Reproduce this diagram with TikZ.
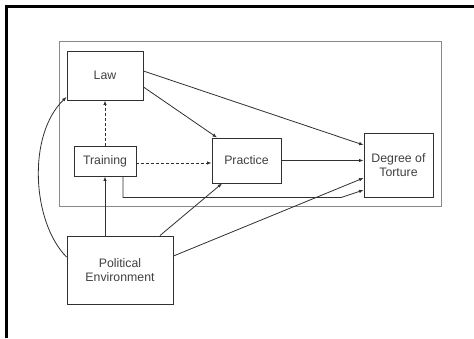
\documentclass[tikz,border=0pt]{standalone}
\usepackage{fontspec}
\setmainfont{Liberation Sans}
\usetikzlibrary{arrows.meta,calc}
\definecolor{ln}{HTML}{303030}
\definecolor{tx}{HTML}{404040}
\definecolor{cont}{HTML}{8A8A8A}
\tikzset{
  box/.style={draw=ln, line width=0.95pt, inner sep=0pt, text=tx, font=\fontsize{12.3}{14}\selectfont, align=center},
  arr/.style={draw=ln, line width=0.8pt, -{Latex[length=4.5pt,width=3.5pt]}},
  darr/.style={arr, dash pattern=on 3pt off 2pt}
}
\begin{document}
\begin{tikzpicture}[x=1pt,y=-1pt]
\useasboundingbox (0,0) rectangle (474,338);
\fill[white] (0,0) rectangle (474,338);
% outer frame (left and top)
\draw[black, line width=3pt] (6.5,338) -- (6.5,6.5) -- (474,6.5);
% container
\draw[cont, line width=0.9pt] (59,41) rectangle (441,206);
% nodes
\node[box, minimum width=76pt, minimum height=49pt] (law) at (105,75.5) {Law};
\node[box, minimum width=62pt, minimum height=30pt] (training) at (105,161) {Training};
\node[box, minimum width=69pt, minimum height=45pt] (practice) at (246.5,160.5) {Practice};
\node[box, minimum width=69pt, minimum height=64pt] (dot) at (398.5,165) {Degree of\\Torture};
\node[box, minimum width=106pt, minimum height=68pt] (pe) at (120,270) {Political\\Environment};
\coordinate (bend) at (341,197.5);
% connectors
\draw[arr] ([yshift=4.5pt]law.east) -- ([yshift=20pt]dot.west);
\draw[arr] ([yshift=-11.5pt]law.east) -- ([xshift=-29.5pt]practice.north);
\draw[darr] (training.north) -- (law.south);
\draw[darr] ([yshift=-2pt]training.east) -- ([yshift=-2.5pt]practice.west);
\draw[arr] (practice.east) -- (practice.east -| dot.west);
\draw[arr] ([xshift=18pt]training.south) |- (bend) -- ([yshift=-25pt]dot.west);
\draw[arr] ([xshift=-15pt]pe.north) -- (training.south);
\draw[arr] ([xshift=40pt]pe.north) -- ([xshift=-24.5pt]practice.south);
\draw[arr] ([yshift=14pt]pe.east) -- ([yshift=-13pt]dot.west);
\draw[arr] ([yshift=13pt]pe.west) .. controls (32,222) and (27,135) .. ([yshift=-21.5pt]law.west);
\end{tikzpicture}
\end{document}
